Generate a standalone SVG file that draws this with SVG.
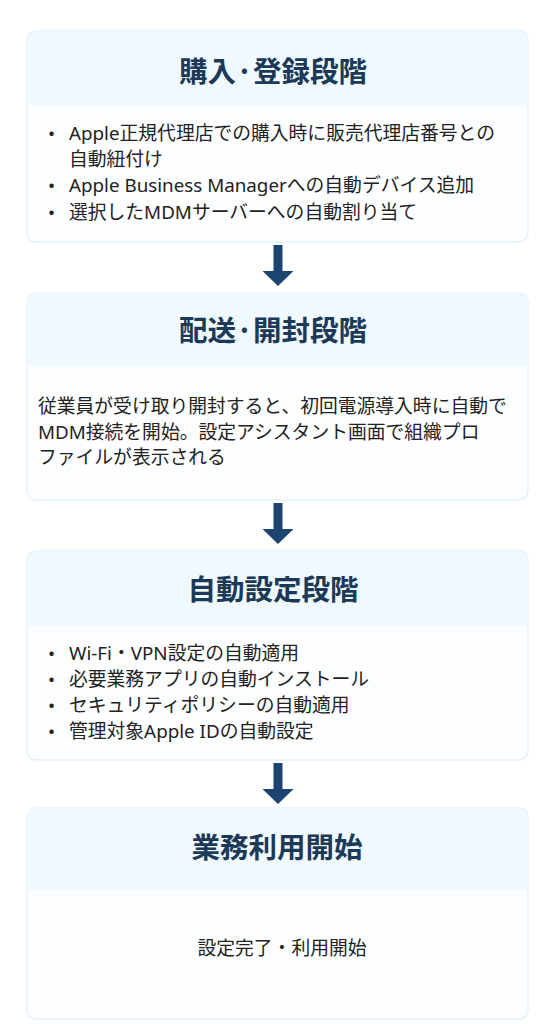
<svg xmlns="http://www.w3.org/2000/svg" width="548" height="1024" viewBox="0 0 548 1024">
<defs>
<style>
.card{fill:#fdfeff;stroke:#e3f1fa;stroke-width:1.5}
.hdr{fill:#eff9fe}
.title{font-family:"Noto Sans CJK JP","Noto Sans",sans-serif;font-size:28.5px;font-weight:700;fill:#1c3a58;text-anchor:middle}
.body{font-family:"Noto Sans","Noto Sans CJK JP",sans-serif;font-size:18.8px;fill:#222}
.ctr{text-anchor:middle}
.arrow{fill:#1b4570}
</style>
<clipPath id="c1"><rect x="27" y="31" width="501" height="211" rx="9"/></clipPath>
<clipPath id="c2"><rect x="27" y="293" width="501" height="207" rx="9"/></clipPath>
<clipPath id="c3"><rect x="27" y="551" width="501" height="209" rx="9"/></clipPath>
<clipPath id="c4"><rect x="27" y="808" width="501" height="211" rx="9"/></clipPath>
</defs>
<rect width="548" height="1024" fill="#ffffff"/>

<g id="node-purchase">
<rect class="card" x="27" y="31" width="501" height="211" rx="9"/>
<rect class="hdr" x="27" y="31" width="501" height="74" clip-path="url(#c1)"/>
<text class="title" x="273" y="82">購入·登録段階</text>
<text class="body" x="48" y="140">•</text><text class="body" x="69" y="140">Apple正規代理店での購入時に販売代理店番号との</text>
<text class="body" x="69" y="166">自動紐付け</text>
<text class="body" x="48" y="192">•</text><text class="body" x="69" y="192">Apple Business Managerへの自動デバイス追加</text>
<text class="body" x="48" y="219">•</text><text class="body" x="69" y="219">選択したMDMサーバーへの自動割り当て</text>
</g>

<g id="node-delivery">
<rect class="card" x="27" y="293" width="501" height="207" rx="9"/>
<rect class="hdr" x="27" y="293" width="501" height="73" clip-path="url(#c2)"/>
<text class="title" x="273" y="341">配送·開封段階</text>
<text class="body" x="38" y="413">従業員が受け取り開封すると、初回電源導入時に自動で</text>
<text class="body" x="38" y="439">MDM接続を開始。設定アシスタント画面で組織プロ</text>
<text class="body" x="38" y="464">ファイルが表示される</text>
</g>

<g id="node-autoconfig">
<rect class="card" x="27" y="551" width="501" height="209" rx="9"/>
<rect class="hdr" x="27" y="551" width="501" height="75" clip-path="url(#c3)"/>
<text class="title" x="273" y="600">自動設定段階</text>
<text class="body" x="48" y="660">•</text><text class="body" x="69" y="660">Wi-Fi・VPN設定の自動適用</text>
<text class="body" x="48" y="686">•</text><text class="body" x="69" y="686">必要業務アプリの自動インストール</text>
<text class="body" x="48" y="712">•</text><text class="body" x="69" y="712">セキュリティポリシーの自動適用</text>
<text class="body" x="48" y="738">•</text><text class="body" x="69" y="738">管理対象Apple IDの自動設定</text>
</g>

<g id="node-start">
<rect class="card" x="27" y="808" width="501" height="211" rx="9"/>
<rect class="hdr" x="27" y="808" width="501" height="82" clip-path="url(#c4)"/>
<text class="title" x="277" y="858">業務利用開始</text>
<text class="body ctr" x="282" y="955">設定完了・利用開始</text>
</g>

<g id="connectors">
<rect class="arrow" x="273.5" y="245" width="9" height="27"/>
<polygon class="arrow" points="262.5,271 293.5,271 278,286"/>
<rect class="arrow" x="273.5" y="503" width="9" height="27"/>
<polygon class="arrow" points="262.5,529 293.5,529 278,544"/>
<rect class="arrow" x="273.5" y="763" width="9" height="27"/>
<polygon class="arrow" points="262.5,789 293.5,789 278,804"/>
</g>
</svg>
